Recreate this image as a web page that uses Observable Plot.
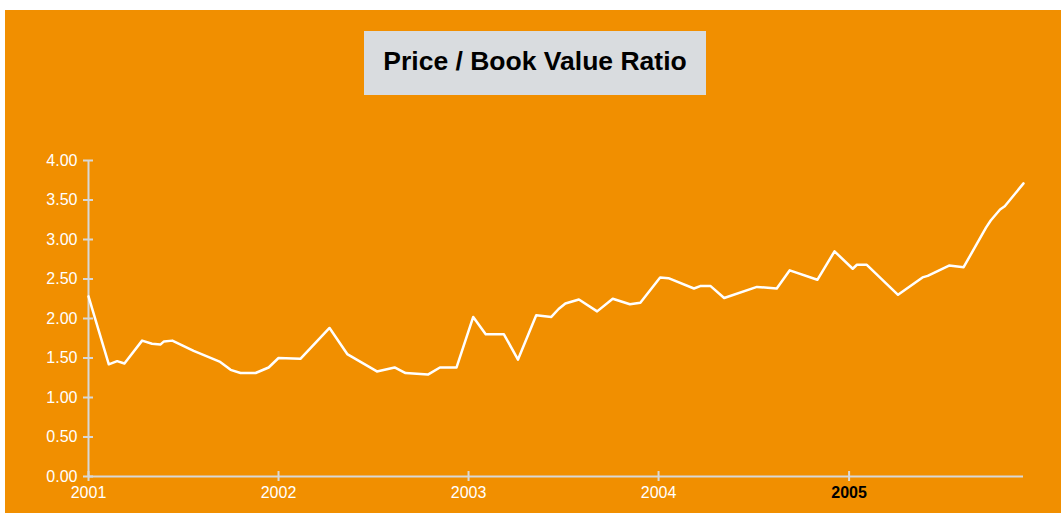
<!DOCTYPE html>
<html>
<head>
<meta charset="utf-8">
<script src="https://cdn.jsdelivr.net/npm/d3@7"></script>
<script src="https://cdn.jsdelivr.net/npm/@observablehq/plot@0.6"></script>
<style>
  html, body { margin: 0; padding: 0; background: #ffffff; }
  #wrap { position: absolute; left: 5px; top: 10px; width: 1056px; height: 503px; background: #F18F00; overflow: hidden; }
  #head { position: relative; width: 1056px; height: 100px; }
  #title { position: absolute; left: 359px; top: 21px; width: 342px; height: 64px; background: #D9DCDF;
           box-sizing: border-box; padding-bottom: 4px;
           display: flex; align-items: center; justify-content: center;
           font: bold 26.5px "Liberation Sans", Arial, sans-serif; color: #000; }
  #chart svg { display: block; }
</style>
</head>
<body>
<div id="wrap">
  <div id="head"><div id="title">Price / Book Value Ratio</div></div>
  <div id="chart"></div>
</div>
<script>
const dates = [
  "2001-01-01","2001-02-09","2001-02-25","2001-03-11","2001-04-14","2001-05-03","2001-05-19","2001-05-26",
  "2001-06-11","2001-07-22","2001-09-11","2001-10-01","2001-10-20","2001-11-18","2001-12-13","2002-01-01",
  "2002-02-12","2002-04-09","2002-05-13","2002-07-09","2002-08-12","2002-09-02","2002-10-15","2002-11-07",
  "2002-12-09","2003-01-10","2003-02-03","2003-03-10","2003-04-06","2003-05-11","2003-06-09","2003-06-23",
  "2003-07-06","2003-08-01","2003-09-05","2003-10-05","2003-11-07","2003-11-27","2004-01-04","2004-01-20",
  "2004-03-09","2004-03-21","2004-04-10","2004-05-06","2004-07-08","2004-08-15","2004-09-09","2004-11-01",
  "2004-12-04","2005-01-08","2005-01-16","2005-02-04","2005-04-05","2005-05-22","2005-06-01","2005-07-12",
  "2005-08-09","2005-09-21","2005-09-30","2005-10-18","2005-10-27","2005-12-02"
];
const ratios = [
  2.28,1.42,1.46,1.43,1.72,1.68,1.67,1.71,
  1.72,1.59,1.45,1.35,1.31,1.31,1.38,1.50,
  1.49,1.88,1.55,1.33,1.38,1.31,1.29,1.38,
  1.38,2.02,1.80,1.80,1.48,2.04,2.02,2.12,
  2.19,2.24,2.09,2.25,2.18,2.20,2.52,2.51,
  2.38,2.41,2.41,2.26,2.40,2.38,2.61,2.49,
  2.85,2.63,2.68,2.68,2.30,2.52,2.54,2.67,
  2.65,3.15,3.24,3.38,3.42,3.71
];
const yTicks = [0, 0.5, 1, 1.5, 2, 2.5, 3, 3.5, 4];
const xTickYears = [2001, 2002, 2003, 2004, 2005];
const highlightYear = 2005;

const parse = d3.utcParse("%Y-%m-%d");
const data = dates.map((d, i) => ({date: parse(d), value: ratios[i]}));
const yearDate = y => new Date(Date.UTC(y, 0, 1));
const xTicksAll = xTickYears.map(yearDate);
const xTicksNormal = xTickYears.filter(y => y !== highlightYear).map(yearDate);
const xTicksBold = xTickYears.filter(y => y === highlightYear).map(yearDate);

const axisColor = "#D8D8D8";

const chart = Plot.plot({
  width: 1056,
  height: 403,
  marginLeft: 83,
  marginRight: 38,
  marginTop: 50,
  marginBottom: 37,
  style: {background: "transparent", fontFamily: "'Liberation Sans', Arial, sans-serif", fontSize: "16px", color: "white", overflow: "visible"},
  x: {type: "utc", domain: [data[0].date, data[data.length - 1].date], label: null},
  y: {domain: [0, 4], label: null},
  marks: [
    Plot.ruleY([0], {stroke: axisColor, strokeWidth: 2}),
    Plot.ruleX([data[0].date], {stroke: axisColor, strokeWidth: 2}),
    Plot.axisY({ticks: yTicks, tickSize: 10, dx: 5, fill: "none", stroke: axisColor, strokeWidth: 2, label: null, tickFormat: () => ""}),
    Plot.axisY({ticks: yTicks, tickSize: 0, tickPadding: 11, tickFormat: d => d.toFixed(2), fill: "white", label: null}),
    Plot.axisX({ticks: xTicksAll, tickSize: 10, dy: -5, fill: "none", stroke: axisColor, strokeWidth: 2, label: null, tickFormat: () => ""}),
    Plot.axisX({ticks: xTicksNormal, tickSize: 0, tickPadding: 10, tickFormat: d3.utcFormat("%Y"), fill: "white", label: null}),
    Plot.axisX({ticks: xTicksBold, tickSize: 0, tickPadding: 10, tickFormat: d3.utcFormat("%Y"), fill: "black", fontWeight: "bold", label: null}),
    Plot.lineY(data, {x: "date", y: "value", stroke: "white", strokeWidth: 2.5})
  ]
});
document.getElementById("chart").appendChild(chart);
</script>
</body>
</html>
